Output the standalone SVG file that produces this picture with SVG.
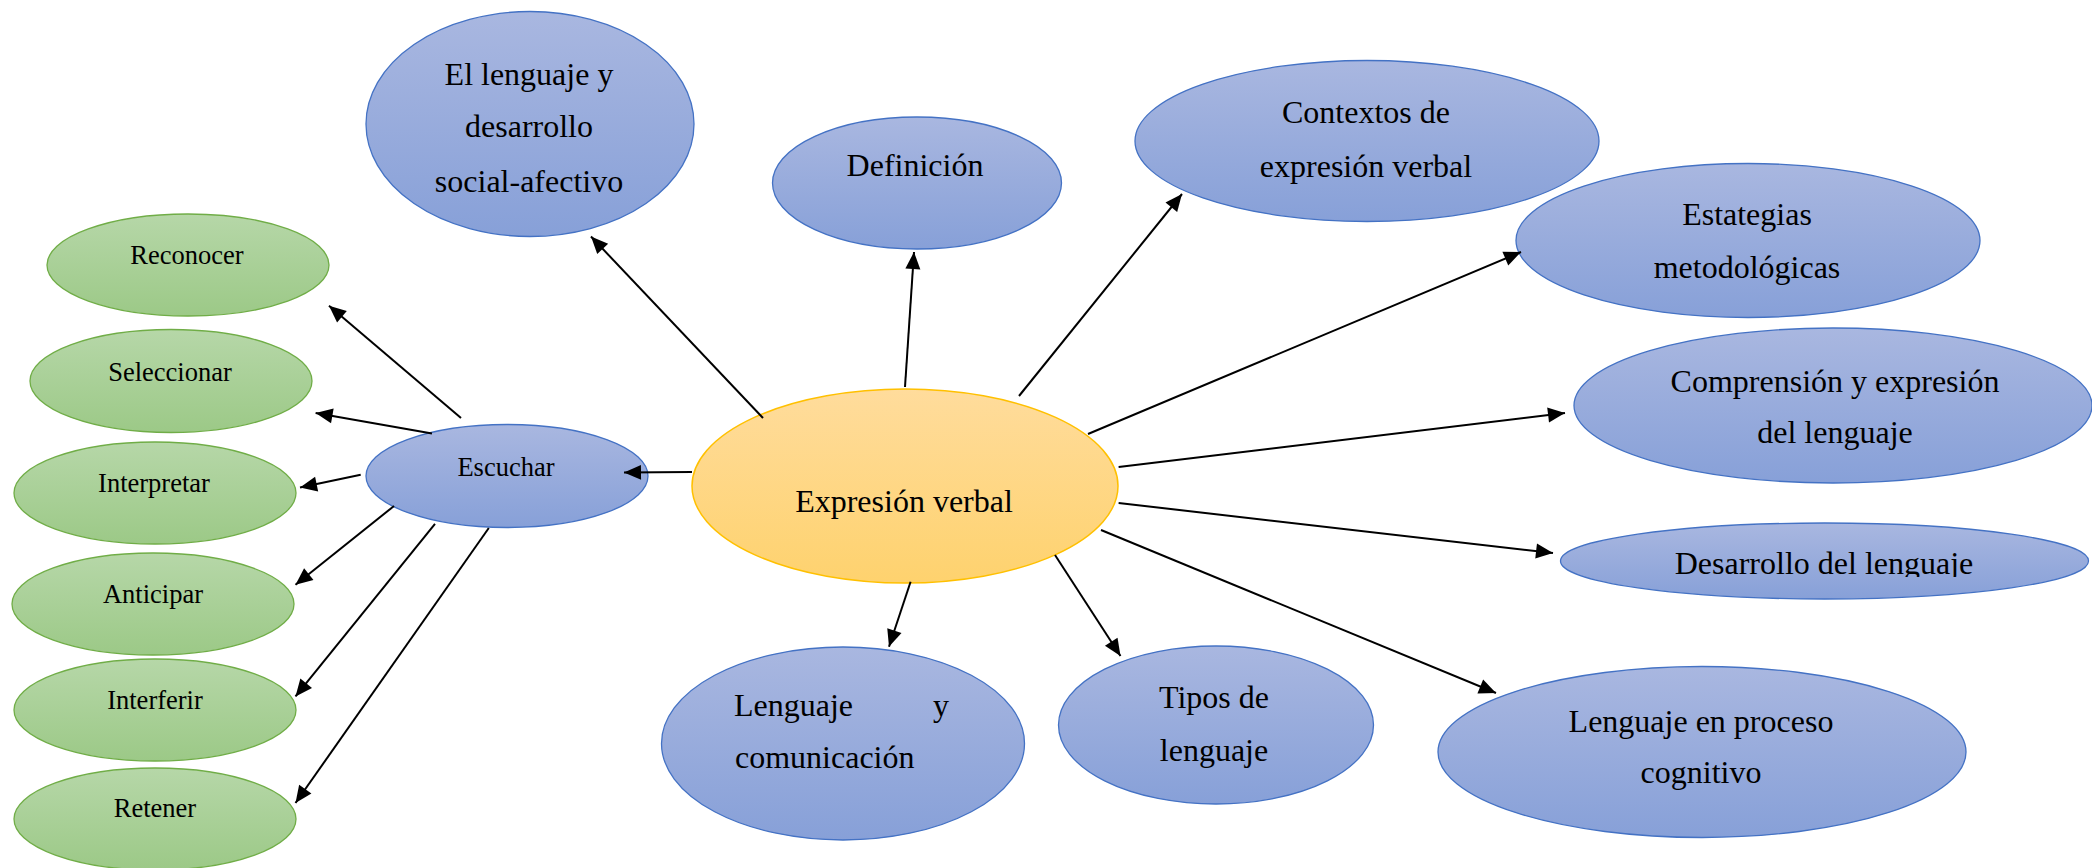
<svg xmlns="http://www.w3.org/2000/svg" width="2092" height="868" viewBox="0 0 2092 868">
<style>
.blue{fill:url(#gBlue);stroke:#4472c4;stroke-width:1.3}
.green{fill:url(#gGreen);stroke:#70ad47;stroke-width:1.3}
.orange{fill:url(#gOrange);stroke:#ffc000;stroke-width:1.5}
.t{font-family:"Liberation Serif","Times New Roman",serif;font-size:32px;fill:#000;text-anchor:middle}
.ts{font-family:"Liberation Serif","Times New Roman",serif;font-size:26.5px;fill:#000;text-anchor:middle}
.c{stroke:#000;stroke-width:2;fill:none;marker-end:url(#arr)}
</style>
<defs>
<linearGradient id="gBlue" x1="0" y1="0" x2="0" y2="1">
<stop offset="0" stop-color="#a9b7e0"/><stop offset="1" stop-color="#87a0d8"/>
</linearGradient>
<linearGradient id="gGreen" x1="0" y1="0" x2="0" y2="1">
<stop offset="0" stop-color="#b6d7a8"/><stop offset="1" stop-color="#9cc987"/>
</linearGradient>
<linearGradient id="gOrange" x1="0" y1="0" x2="0" y2="1">
<stop offset="0" stop-color="#ffdc9c"/><stop offset="1" stop-color="#fed26e"/>
</linearGradient>
<marker id="arr" markerUnits="userSpaceOnUse" markerWidth="19" markerHeight="16" refX="17" refY="7.5" orient="auto" overflow="visible">
<path d="M0,0 L17,7.5 L0,15 z" fill="#000"/>
</marker>
<clipPath id="clipDes"><rect x="1500" y="500" width="600" height="77"/></clipPath>
</defs>

<g id="n-expresion">
<ellipse class="orange" cx="905" cy="486" rx="213" ry="97"/>
<text class="t" x="904" y="512">Expresión verbal</text>
</g>

<g id="n-ellenguaje">
<ellipse class="blue" cx="530" cy="124" rx="164" ry="112.5"/>
<text class="t" x="529" y="85">El lenguaje y</text>
<text class="t" x="529" y="137">desarrollo</text>
<text class="t" x="529" y="192">social-afectivo</text>
</g>

<g id="n-definicion">
<ellipse class="blue" cx="917" cy="183" rx="144.5" ry="66"/>
<text class="t" x="915" y="176">Definición</text>
</g>

<g id="n-contextos">
<ellipse class="blue" cx="1367" cy="141" rx="232" ry="80.5"/>
<text class="t" x="1366" y="123">Contextos de</text>
<text class="t" x="1366" y="177">expresión verbal</text>
</g>

<g id="n-estategias">
<ellipse class="blue" cx="1748" cy="240.5" rx="232" ry="77"/>
<text class="t" x="1747" y="225">Estategias</text>
<text class="t" x="1747" y="278">metodológicas</text>
</g>

<g id="n-comprension">
<ellipse class="blue" cx="1833" cy="405.5" rx="259" ry="77.5"/>
<text class="t" x="1835" y="392">Comprensión y expresión</text>
<text class="t" x="1835" y="443">del lenguaje</text>
</g>

<g id="n-desarrollo">
<ellipse class="blue" cx="1824.5" cy="561" rx="264" ry="38"/>
<text class="t" x="1824" y="574" clip-path="url(#clipDes)">Desarrollo del lenguaje</text>
</g>

<g id="n-proceso">
<ellipse class="blue" cx="1702" cy="752" rx="264" ry="85.5"/>
<text class="t" x="1701" y="732">Lenguaje en proceso</text>
<text class="t" x="1701" y="783">cognitivo</text>
</g>

<g id="n-tipos">
<ellipse class="blue" cx="1216" cy="725" rx="157.5" ry="79"/>
<text class="t" x="1214" y="708">Tipos de</text>
<text class="t" x="1214" y="761">lenguaje</text>
</g>

<g id="n-comunicacion">
<ellipse class="blue" cx="843" cy="743.5" rx="181.5" ry="96.5"/>
<text class="t" x="734" y="716" style="text-anchor:start">Lenguaje</text>
<text class="t" x="949" y="716" style="text-anchor:end">y</text>
<text class="t" x="735" y="768" style="text-anchor:start">comunicación</text>
</g>

<g id="n-escuchar">
<ellipse class="blue" cx="507" cy="476" rx="141" ry="51.5"/>
<text class="ts" x="506" y="476">Escuchar</text>
</g>

<g id="n-reconocer">
<ellipse class="green" cx="188" cy="265" rx="141" ry="51"/>
<text class="ts" x="187" y="264">Reconocer</text>
</g>
<g id="n-seleccionar">
<ellipse class="green" cx="171" cy="381" rx="141" ry="51.5"/>
<text class="ts" x="170" y="381">Seleccionar</text>
</g>
<g id="n-interpretar">
<ellipse class="green" cx="155" cy="493" rx="141" ry="51"/>
<text class="ts" x="154" y="492">Interpretar</text>
</g>
<g id="n-anticipar">
<ellipse class="green" cx="153" cy="604" rx="141" ry="51"/>
<text class="ts" x="153" y="603">Anticipar</text>
</g>
<g id="n-interferir">
<ellipse class="green" cx="155" cy="710" rx="141" ry="51"/>
<text class="ts" x="155" y="709">Interferir</text>
</g>
<g id="n-retener">
<ellipse class="green" cx="155" cy="819" rx="141" ry="51"/>
<text class="ts" x="155" y="817">Retener</text>
</g>

<g id="connectors">
<line class="c" x1="692" y1="472" x2="624" y2="472.5"/>
<line class="c" x1="763" y1="418" x2="591" y2="236.5"/>
<line class="c" x1="905" y1="387" x2="914" y2="252"/>
<line class="c" x1="1019" y1="396" x2="1182" y2="194"/>
<line class="c" x1="1088" y1="434" x2="1521" y2="252"/>
<line class="c" x1="1118.6" y1="467" x2="1565" y2="413"/>
<line class="c" x1="1118.6" y1="503" x2="1553" y2="553"/>
<line class="c" x1="1101" y1="530" x2="1496" y2="693"/>
<line class="c" x1="910.6" y1="581.7" x2="889" y2="646.7"/>
<line class="c" x1="1055" y1="555" x2="1120.5" y2="656"/>
<line class="c" x1="461" y1="418" x2="329" y2="305.7"/>
<line class="c" x1="432" y1="433.5" x2="315.6" y2="413"/>
<line class="c" x1="360.7" y1="474.8" x2="300" y2="487.6"/>
<line class="c" x1="394" y1="506" x2="295.5" y2="584.7"/>
<line class="c" x1="435" y1="523.8" x2="295.5" y2="696.4"/>
<line class="c" x1="488.8" y1="528" x2="295.5" y2="803"/>
</g>
</svg>
